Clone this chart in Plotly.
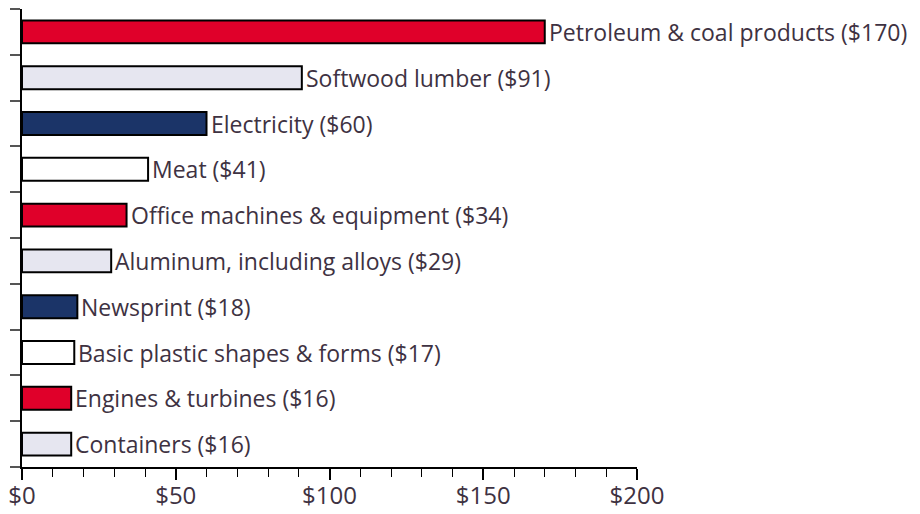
import plotly.graph_objects as go

categories = ["Petroleum & coal products", "Softwood lumber", "Electricity", "Meat",
              "Office machines & equipment", "Aluminum, including alloys", "Newsprint",
              "Basic plastic shapes & forms", "Engines & turbines", "Containers"]
values = [170, 91, 60, 41, 34, 29, 18, 17, 16, 16]
colors = ["#e0002a", "#e6e6f0", "#1b3468", "#ffffff"] * 3
tick_vals = [0, 50, 100, 150, 200]
tick_text = ["$0", "$50", "$100", "$150", "$200"]

n = len(categories)
ypos = list(range(n))[::-1]  # first category at top

TEXT = "#3e3242"
FONT = "Open Sans"

fig = go.Figure()
fig.add_trace(go.Bar(
    x=values, y=ypos, orientation="h",
    marker=dict(color=colors[:n], line=dict(color="#000000", width=2)),
    width=0.5, hoverinfo="skip",
))

for v, y, c in zip(values, ypos, categories):
    fig.add_annotation(x=v, y=y, text=f"{c} (${v})", showarrow=False,
                       xanchor="left", yanchor="middle", xshift=2,
                       font=dict(family=FONT, size=23, color=TEXT))

fig.update_xaxes(range=[0, 200], tickvals=tick_vals, ticktext=tick_text,
                 ticks="outside", ticklen=11, tickwidth=1.5, tickcolor="#000",
                 showline=True, linecolor="#000", linewidth=2,
                 showgrid=False, zeroline=False, automargin=False,
                 ticklabelstandoff=-5,
                 tickfont=dict(family=FONT, size=24, color=TEXT),
                 minor=dict(dtick=10, ticks="outside", ticklen=8, tickwidth=1.2, tickcolor="#000", showgrid=False))
fig.update_yaxes(range=[-0.5, n - 0.5], tickvals=[k + 0.5 for k in range(-1, n)],
                 ticktext=[""] * (n + 1), automargin=False,
                 ticks="outside", ticklen=10, tickwidth=1.5, tickcolor="#555",
                 showline=True, linecolor="#000", linewidth=2,
                 showgrid=False, zeroline=False)

fig.update_layout(width=920, height=514, margin=dict(l=22, r=283, t=9, b=47),
                  plot_bgcolor="white", paper_bgcolor="white", showlegend=False)

fig.write_html("out.html", config={"displayModeBar": False},
               post_script="document.body.style.margin='0';")
